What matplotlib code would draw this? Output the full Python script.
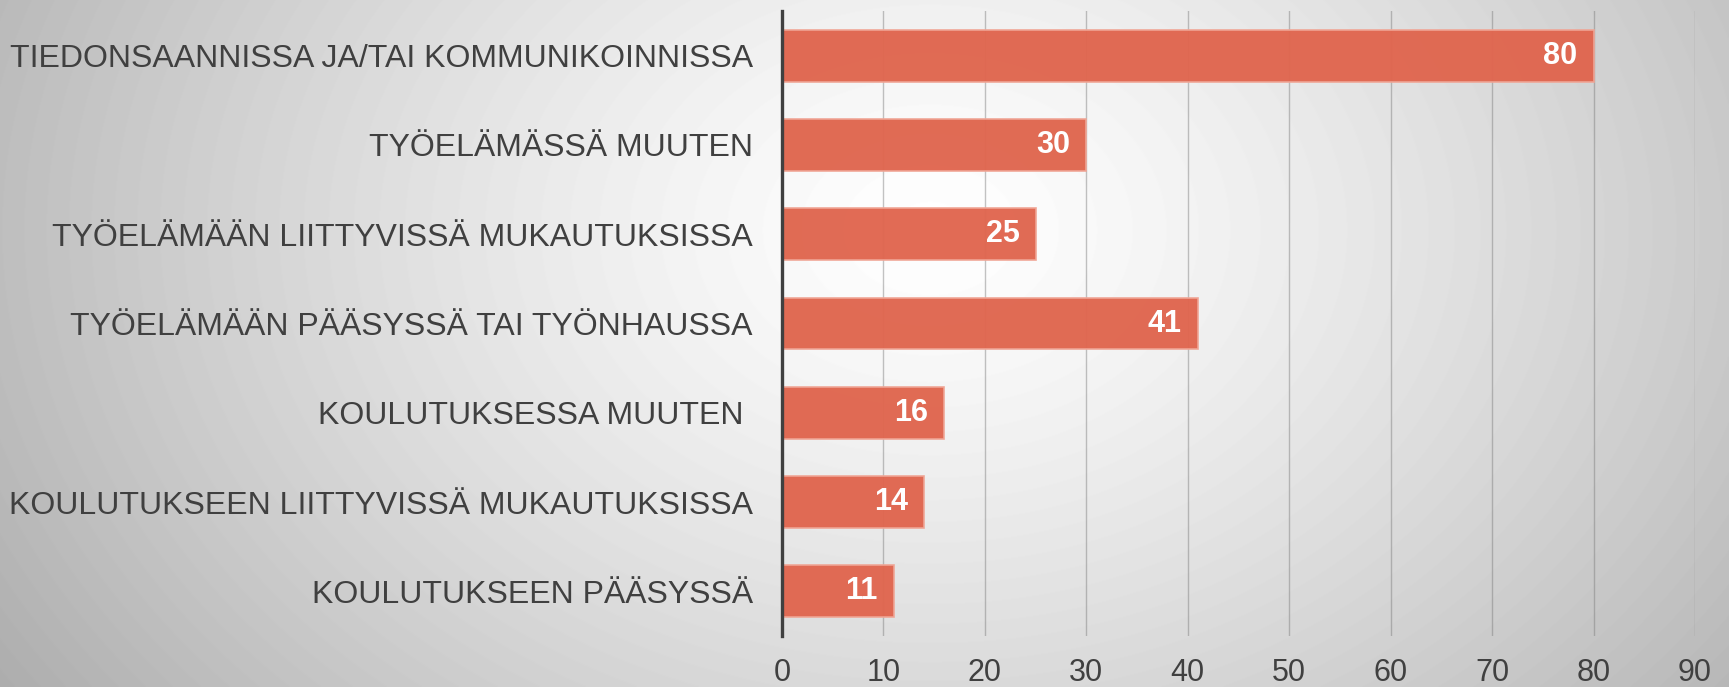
import numpy as np
import matplotlib
matplotlib.use("Agg")
import matplotlib.pyplot as plt

# categories top -> bottom
categories = [
    "TIEDONSAANNISSA JA/TAI KOMMUNIKOINNISSA",
    "TYÖELÄMÄSSÄ MUUTEN",
    "TYÖELÄMÄÄN LIITTYVISSÄ MUKAUTUKSISSA",
    "TYÖELÄMÄÄN PÄÄSYSSÄ TAI TYÖNHAUSSA",
    "KOULUTUKSESSA MUUTEN ",
    "KOULUTUKSEEN LIITTYVISSÄ MUKAUTUKSISSA",
    "KOULUTUKSEEN PÄÄSYSSÄ",
]
values = [80, 30, 25, 41, 16, 14, 11]
xticks = [0, 10, 20, 30, 40, 50, 60, 70, 80, 90]

plt.rcParams['font.family'] = ['Liberation Sans', 'DejaVu Sans']

fig = plt.figure(figsize=(17.29, 6.87), dpi=100)

# radial grey background, white near the middle-top
bg = fig.add_axes([0, 0, 1, 1], zorder=-10)
h, w = 687, 1729
yy, xx = np.mgrid[0:h, 0:w]
cx, cy = 930, 230
d = np.sqrt(((xx - cx) / 1000.0) ** 2 + ((yy - cy) / 750.0) ** 2)
shade = 1.0 - 0.28 * np.clip(d, 0, 1.2) ** 1.3
bg.imshow(shade, cmap='gray', vmin=0, vmax=1, aspect='auto', extent=[0, 1, 0, 1])
bg.axis('off')

ax = fig.add_axes([0.4523, 0.0742, 0.9803 - 0.4523, 0.984 - 0.0742])
ax.set_facecolor('none')

ypos = np.arange(len(categories))
bars = ax.barh(ypos, values, height=0.58, color='#E0664F', edgecolor='#F0A595',
               linewidth=1.2, alpha=0.97, zorder=3)

for y, v in zip(ypos, values):
    ax.text(v - 1.6, y, str(v), ha='right', va='center', color='white',
            fontsize=22, fontweight='bold', zorder=4)

ax.set_ylim(len(categories) - 0.5, -0.5)
ax.set_xlim(0, 90)
ax.set_yticks(ypos)
ax.set_yticklabels(categories, fontsize=23, color='#404040')
ax.set_xticks(xticks)
ax.set_xticklabels([str(t) for t in xticks], fontsize=22, color='#404040')
ax.tick_params(axis='y', length=0, pad=21)
ax.tick_params(axis='x', length=0, pad=16)

ax.grid(axis='x', color='#7a7a7a', alpha=0.45, linewidth=1.0, zorder=0)
ax.set_axisbelow(True)
for s in ['top', 'right', 'bottom']:
    ax.spines[s].set_visible(False)
ax.spines['left'].set_color('#404040')
ax.spines['left'].set_linewidth(2.4)
ax.spines['left'].set_zorder(5)

fig.savefig('out.png', dpi=100)
